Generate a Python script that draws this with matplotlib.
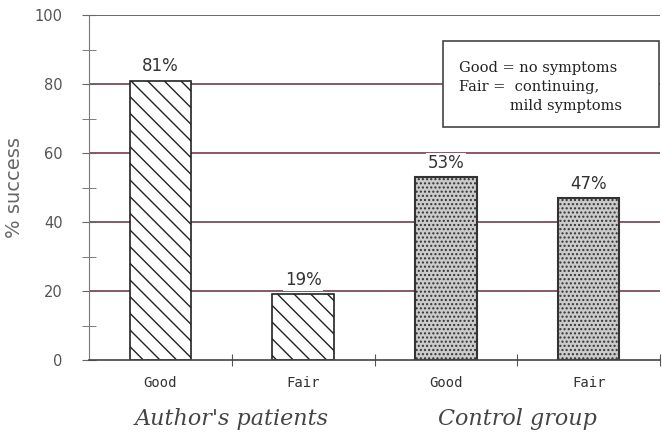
import matplotlib
matplotlib.use("Agg")
import matplotlib.pyplot as plt
import numpy as np

categories = ["Good", "Fair", "Good", "Fair"]
groups = ["Author's patients", "Control group"]
values = [81, 19, 53, 47]
value_labels = ["81%", "19%", "53%", "47%"]
yticks = [0, 20, 40, 60, 80, 100]

grid_c = "#6e4050"
fig = plt.figure(figsize=(6.62, 4.32), dpi=100)
ax = fig.add_axes([89/662, 1-360/432, 571/662, 345/432])
ax.set_xlim(-0.5, 3.5)
ax.set_ylim(0, 100)

for y in yticks[1:]:
    ax.axhline(y, color=grid_c, lw=1.2, zorder=0)

for i, v in enumerate(values):
    if i < 2:
        ax.bar(i, v, width=0.43, facecolor="white", edgecolor="#222222",
               hatch="\\\\", lw=1.2, zorder=2)
    else:
        ax.bar(i, v, width=0.43, facecolor="#cbcbcb", edgecolor="#333333",
               hatch="....", lw=1.5, zorder=2)
    ax.text(i, v + 1.5, value_labels[i], ha="center", va="bottom",
            fontsize=12, color="#333333", zorder=3,
            bbox=dict(facecolor="white", edgecolor="none", pad=1))

ax.set_yticks(yticks)
ax.set_yticklabels([str(t) for t in yticks], fontsize=10.5, color="#555555")
ax.set_yticks([10, 30, 50, 70, 90], minor=True)
ax.tick_params(axis="y", which="both", direction="inout", length=10,
               color="#666666", pad=14)
ax.set_xticks([0.5, 1.5, 2.5, 3.5])
ax.set_xticklabels([])
ax.tick_params(axis="x", direction="inout", length=8, color="#555555")

for s in ["top", "right"]:
    ax.spines[s].set_visible(False)
ax.spines["left"].set_color("#777777")
ax.spines["bottom"].set_color("#444444")
ax.spines["bottom"].set_linewidth(1.2)

for i, c in enumerate(categories):
    ax.text(i, -4.5, c, ha="center", va="top",
            fontsize=10, color="#333333", family="DejaVu Sans Mono")

for j, g in enumerate(groups):
    ax.text(0.5 + 2*j, -14, g, ha="center", va="top", fontsize=16,
            style="italic", family="DejaVu Serif", color="#444444")

ax.set_ylabel("% success", fontsize=14, color="#666666", labelpad=8)

box = plt.Rectangle((443/662, 1-127/432), 216/662, 86/432, transform=fig.transFigure,
                    facecolor="white", edgecolor="#444444", lw=1.2, zorder=3)
fig.patches.append(box)
fig.text(459/662, 1-61/432, "Good = no symptoms\nFair =  continuing,\n           mild symptoms",
         ha="left", va="top", fontsize=10.5, family="DejaVu Serif",
         color="#222222", linespacing=1.45, zorder=4)

fig.savefig("out.png", dpi=100)
